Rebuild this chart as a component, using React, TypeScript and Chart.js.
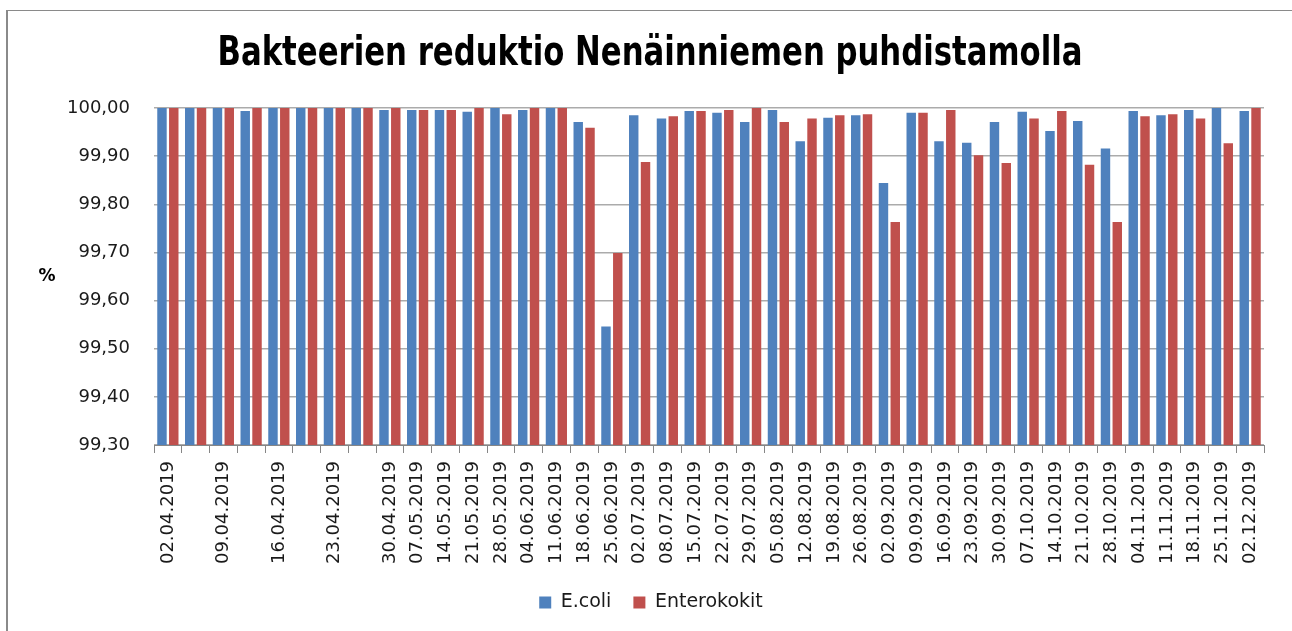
import React, { useEffect, useRef } from "react";
import { Chart, registerables } from "chart.js";

Chart.register(...registerables);

const chartTitle = "Bakteerien reduktio Nenäinniemen puhdistamolla";
const yAxisTitle = "%";
const seriesNames = ["E.coli", "Enterokokit"];

const categories = [
  "02.04.2019", "", "09.04.2019", "", "16.04.2019", "", "23.04.2019", "",
  "30.04.2019", "07.05.2019", "14.05.2019", "21.05.2019", "28.05.2019",
  "04.06.2019", "11.06.2019", "18.06.2019", "25.06.2019", "02.07.2019",
  "08.07.2019", "15.07.2019", "22.07.2019", "29.07.2019", "05.08.2019",
  "12.08.2019", "19.08.2019", "26.08.2019", "02.09.2019", "09.09.2019",
  "16.09.2019", "23.09.2019", "30.09.2019", "07.10.2019", "14.10.2019",
  "21.10.2019", "28.10.2019", "04.11.2019", "11.11.2019", "18.11.2019",
  "25.11.2019", "02.12.2019",
];

const ecoli = [
  100, 100, 100, 99.994, 100, 100, 100, 100, 99.996, 99.996,
  99.996, 99.992, 100, 99.996, 100, 99.971, 99.546, 99.985, 99.978, 99.994,
  99.99, 99.971, 99.996, 99.931, 99.98, 99.985, 99.844, 99.99, 99.931, 99.928,
  99.971, 99.992, 99.952, 99.973, 99.916, 99.994, 99.985, 99.996, 100, 99.994,
];

const enterokokit = [
  100, 100, 100, 100, 100, 100, 100, 100, 100, 99.996,
  99.996, 100, 99.987, 100, 100, 99.959, 99.699, 99.888, 99.983, 99.994,
  99.996, 100, 99.971, 99.978, 99.985, 99.987, 99.763, 99.99, 99.996, 99.902,
  99.886, 99.978, 99.994, 99.882, 99.763, 99.983, 99.987, 99.978, 99.927, 100,
];

const yMin = 99.3;
const yMax = 100;
const yStep = 0.1;

const blue = "#4F81BD";
const red = "#C0504D";

export default function App() {
  const canvasRef = useRef<HTMLCanvasElement | null>(null);

  useEffect(() => {
    if (!canvasRef.current) return;
    const extraText = {
      id: "extraText",
      afterDraw(chart: any) {
        const { ctx, chartArea } = chart;
        // y-axis title (horizontal, as in the original)
        ctx.save();
        ctx.font = 'bold 17px "DejaVu Sans"';
        ctx.fillStyle = "#000";
        ctx.textAlign = "center";
        ctx.textBaseline = "middle";
        ctx.fillText(yAxisTitle, chartArea.left - 107, (chartArea.top + chartArea.bottom) / 2);
        ctx.restore();
        // chart title, condensed to the original width
        ctx.save();
        ctx.font = 'bold 40px "DejaVu Sans Condensed", "DejaVu Sans", sans-serif';
        ctx.fillStyle = "#000";
        ctx.textAlign = "center";
        ctx.textBaseline = "middle";
        const w = ctx.measureText(chartTitle).width;
        const s = Math.min(1, 865 / w);
        ctx.translate(650, 55);
        ctx.scale(s, 1);
        ctx.fillText(chartTitle, 0, 0);
        ctx.restore();
      },
    };
    const chart = new Chart(canvasRef.current, {
      type: "bar",
      data: {
        labels: categories,
        datasets: [
          {
            label: seriesNames[0],
            data: ecoli,
            backgroundColor: blue,
            borderWidth: 0,
            barPercentage: 0.8,
            categoryPercentage: 0.85,
          },
          {
            label: seriesNames[1],
            data: enterokokit,
            backgroundColor: red,
            borderWidth: 0,
            barPercentage: 0.8,
            categoryPercentage: 0.85,
          },
        ],
      },
      options: {
        responsive: false,
        animation: false,
        layout: { padding: { left: 38, right: 28, top: 108, bottom: 9 } },
        plugins: {
          title: { display: false },
          legend: {
            position: "bottom",
            labels: {
              color: "#1a1a1a",
              boxWidth: 12,
              boxHeight: 12,
              padding: 22,
              font: { family: '"DejaVu Sans"', size: 19 },
            },
          },
          tooltip: { enabled: false },
        },
        scales: {
          x: {
            grid: {
              display: true,
              drawOnChartArea: false,
              drawTicks: true,
              tickLength: 8,
              offset: true,
              color: "#868686",
            },
            border: { display: true, color: "#868686", width: 1 },
            ticks: {
              autoSkip: false,
              maxRotation: 90,
              minRotation: 90,
              padding: 8,
              color: "#1a1a1a",
              font: { family: '"DejaVu Sans"', size: 18 },
            },
            afterFit(scale: any) {
              scale.height = 126;
            },
          },
          y: {
            min: yMin,
            max: yMax,
            grid: {
              display: true,
              drawTicks: false,
              color: "#ababab",
              lineWidth: 1.5,
            },
            border: { display: false },
            ticks: {
              stepSize: yStep,
              padding: 24,
              color: "#1a1a1a",
              font: { family: '"DejaVu Sans"', size: 18 },
              callback: (v: any) => Number(v).toFixed(2).replace(".", ","),
            },
            afterFit(scale: any) {
              scale.width = 116;
            },
          },
        },
      },
      plugins: [extraText],
    });
    return () => chart.destroy();
  }, []);

  return (
    <div style={{ position: "fixed", left: 0, top: 0, width: 1292, height: 631, overflow: "hidden", background: "#fff" }}>
      <div
        style={{
          position: "absolute",
          left: 6,
          top: 10,
          width: 1320,
          height: 700,
          borderLeft: "2px solid #8a8a8a",
          borderTop: "1px solid #8a8a8a",
        }}
      />
      <canvas ref={canvasRef} width={1292} height={631} style={{ position: "absolute", left: 0, top: 0 }} />
    </div>
  );
}
